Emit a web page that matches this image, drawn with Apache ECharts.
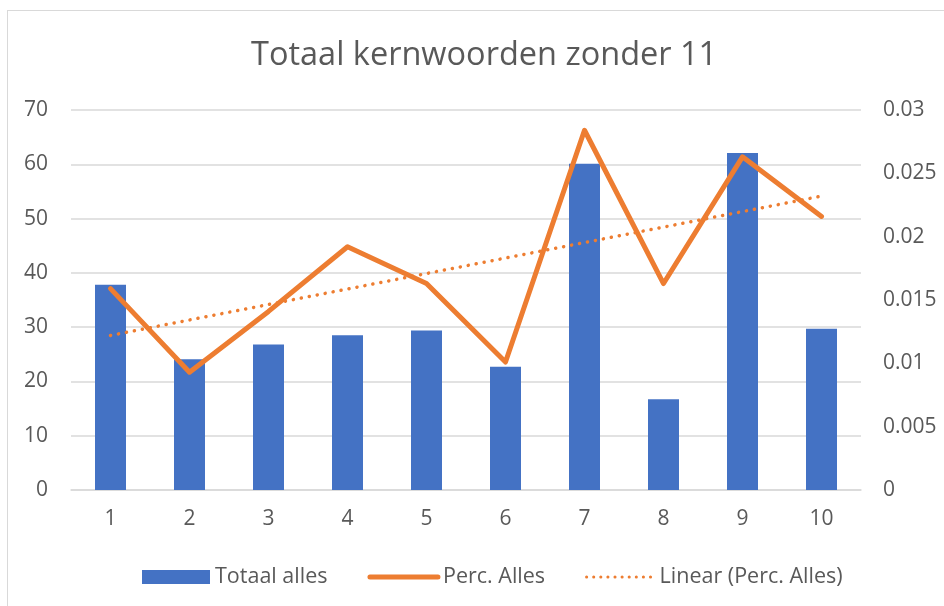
<!DOCTYPE html>
<html>
<head>
<meta charset="utf-8">
<script src="https://cdn.jsdelivr.net/npm/echarts@6/dist/echarts.min.js"></script>
<style>
  html, body { margin: 0; padding: 0; background: #fff; overflow: hidden; }
  #frame {
    position: absolute; left: 7px; top: 10px; width: 980px; height: 640px;
    border: 1.5px solid #d9d9d9; box-sizing: border-box;
  }
  #chart { position: absolute; left: 0; top: 0; width: 944px; height: 606px; }
</style>
</head>
<body>
<div id="frame"></div>
<div id="chart"></div>
<script>
// categories (x axis)
var categories = ['1', '2', '3', '4', '5', '6', '7', '8', '9', '10']
// Totaal alles (left axis)
var totaalAlles = [37.8, 24.1, 26.8, 28.5, 29.4, 22.7, 60.1, 16.7, 62.1, 29.7]
// Perc. Alles (right axis)
var percAlles = [0.0159, 0.0093, 0.0141, 0.0192, 0.0163, 0.0101, 0.0284, 0.0163, 0.0263, 0.0216]
// Linear (Perc. Alles), read at first and last category
var trendEnds = [0.0122, 0.0232]

var labelColor = '#595959'
var font = 'Open Sans'

var myChart = echarts.init(document.getElementById('chart'), null, { renderer: 'canvas' })

var option = {
  backgroundColor: 'transparent',
  animation: false,
  textStyle: { fontFamily: font },
  title: {
    text: 'Totaal kernwoorden zonder 11',
    left: 246,
    top: 34,
    textStyle: { color: labelColor, fontSize: 32.5, fontWeight: 'normal', fontFamily: font }
  },
  legend: {
    left: 137,
    top: 561,
    itemWidth: 68,
    itemHeight: 14,
    itemGap: 40,
    textStyle: { color: labelColor, fontSize: 21.5, fontFamily: font },
    data: [
      { name: 'Totaal alles', icon: 'rect' },
      { name: 'Perc. Alles', itemStyle: { opacity: 0 }, lineStyle: { width: 5, cap: 'round' } },
      { name: 'Linear (Perc. Alles)', itemStyle: { opacity: 0 }, lineStyle: { width: 3, type: [0.1, 7], cap: 'round' } }
    ]
  },
  grid: { left: 71, right: 83, top: 110, bottom: 116 },
  xAxis: {
    type: 'category',
    data: categories,
    axisTick: { show: false },
    axisLine: { lineStyle: { color: '#d9d9d9', width: 1.5 } },
    axisLabel: { color: labelColor, fontSize: 21, margin: 19 }
  },
  yAxis: [
    {
      type: 'value',
      min: 0,
      max: 70,
      interval: 10,
      axisLine: { show: false },
      axisTick: { show: false },
      axisLabel: { color: labelColor, fontSize: 21, margin: 23 },
      splitLine: { lineStyle: { color: '#d9d9d9', width: 1.5 } }
    },
    {
      type: 'value',
      min: 0,
      max: 0.03,
      interval: 0.005,
      axisLine: { show: false },
      axisTick: { show: false },
      axisLabel: { color: labelColor, fontSize: 21, margin: 22 },
      splitLine: { show: false }
    }
  ],
  series: [
    {
      name: 'Totaal alles',
      type: 'bar',
      barWidth: 31,
      itemStyle: { color: '#4472C4' },
      data: totaalAlles
    },
    {
      name: 'Perc. Alles',
      type: 'line',
      yAxisIndex: 1,
      symbol: 'none',
      lineStyle: { color: '#ED7D31', width: 5, join: 'round', cap: 'round' },
      itemStyle: { color: '#ED7D31' },
      data: percAlles
    },
    {
      name: 'Linear (Perc. Alles)',
      type: 'line',
      yAxisIndex: 1,
      symbol: 'none',
      lineStyle: { color: '#ED7D31', width: 3.5, type: [0.1, 8], cap: 'round' },
      itemStyle: { color: '#ED7D31' },
      data: [[0, trendEnds[0]], [categories.length - 1, trendEnds[1]]]
    }
  ]
}

myChart.setOption(option)
window.onresize = () => {
  myChart && myChart.resize()
}
</script>
</body>
</html>
